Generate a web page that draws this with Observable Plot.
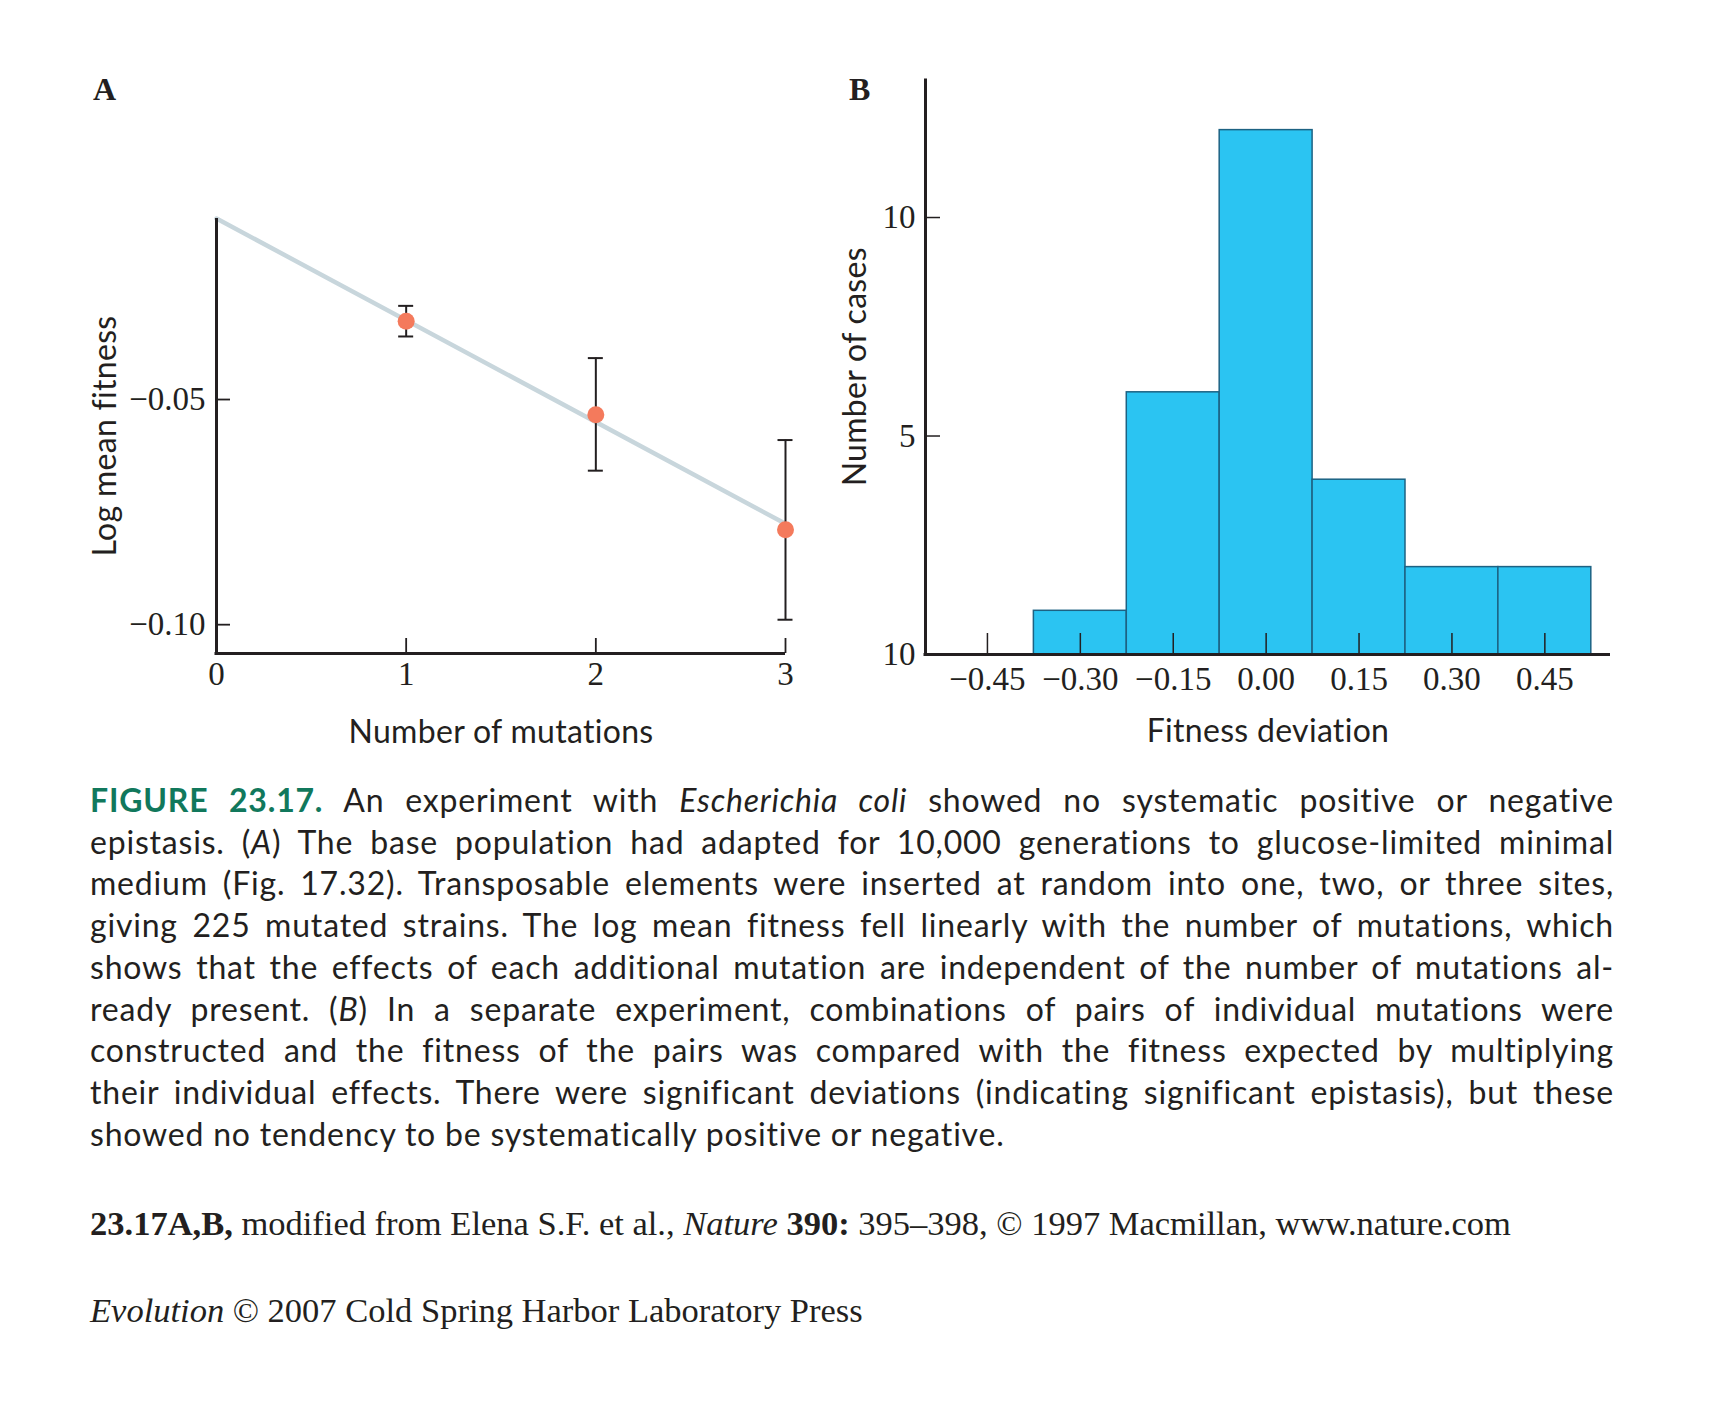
<!DOCTYPE html>
<html>
<head>
<meta charset="utf-8">
<script src="https://cdn.jsdelivr.net/npm/d3@7"></script>
<script src="https://cdn.jsdelivr.net/npm/@observablehq/plot@0.6"></script>
<style>
  body { margin: 0; background: #fff; }
  #page { position: relative; width: 1710px; height: 1404px; background: #fff; overflow: hidden; color: #231f20; }
  .abs { position: absolute; }
  .panel-label { font-family: "Liberation Serif", serif; font-weight: bold; font-size: 32px; line-height: 32px; }
  #caption { left: 90px; top: 779px; width: 1524px; font-family: Lato, sans-serif; font-size: 32px; line-height: 41.7px; letter-spacing: 0.8px; }
  #caption .ln { text-align: justify; text-align-last: justify; white-space: normal; }
  #caption .ln.last { text-align-last: left; }
  #caption .fig { color: #11785c; font-weight: bold; }
  .credit { left: 90px; font-family: "Liberation Serif", serif; font-size: 34.5px; line-height: 40px; white-space: nowrap; }
</style>
</head>
<body>
<div id="page">
  <div class="abs panel-label" style="left:93px; top:73px;">A</div>
  <div class="abs panel-label" style="left:849px; top:73px;">B</div>
  <div id="plotA" class="abs" style="left:0; top:0;"></div>
  <div id="plotB" class="abs" style="left:820px; top:0;"></div>
  <div id="caption" class="abs">
    <div class="ln"><span class="fig">FIGURE 23.17.</span> An experiment with <i>Escherichia coli</i> showed no systematic positive or negative</div>
    <div class="ln">epistasis. (<i>A</i>) The base population had adapted for 10,000 generations to glucose-limited minimal</div>
    <div class="ln">medium (Fig. 17.32). Transposable elements were inserted at random into one, two, or three sites,</div>
    <div class="ln">giving 225 mutated strains. The log mean fitness fell linearly with the number of mutations, which</div>
    <div class="ln">shows that the effects of each additional mutation are independent of the number of mutations al-</div>
    <div class="ln">ready present. (<i>B</i>) In a separate experiment, combinations of pairs of individual mutations were</div>
    <div class="ln">constructed and the fitness of the pairs was compared with the fitness expected by multiplying</div>
    <div class="ln">their individual effects. There were significant deviations (indicating significant epistasis), but these</div>
    <div class="ln last">showed no tendency to be systematically positive or negative.</div>
  </div>
  <div class="abs credit" style="top:1203px;"><b>23.17A,B,</b> modified from Elena S.F. et al., <i>Nature</i> <b>390:</b> 395–398, © 1997 Macmillan, www.nature.com</div>
  <div class="abs credit" style="top:1290px;"><i>Evolution</i> © 2007 Cold Spring Harbor Laboratory Press</div>
</div>
<script>
// ---------- Panel A data ----------
const mutations = [1, 2, 3];
const logFitness = [-0.0326, -0.0534, -0.0789];
const errLow = [-0.0360, -0.0658, -0.0989];
const errHigh = [-0.0292, -0.0408, -0.0590];
const fitX = [0, 3];
const fitY = [-0.0098, -0.0776];
const xTicksA = [0, 1, 2, 3];
const yTicksA = [-0.05, -0.10];
const xDomainA = [0, 3];
const yDomainA = [-0.1064, -0.0098];

// ---------- Panel B data ----------
const binCenters = [-0.45, -0.30, -0.15, 0.00, 0.15, 0.30, 0.45];
const counts = [0, 1, 6, 12, 4, 2, 2];
const binWidth = 0.15;
const yTicksB = [0, 5, 10];
const yTickLabelsB = ["10", "5", "10"];
const xDomainB = [-0.55, 0.556];
const yDomainB = [0, 13.17];

const INK = "#231f20";
const TICK_FONT = "'Liberation Serif', serif";
const TITLE_FONT = "Lato, sans-serif";
const TICK_SIZE = 33;
const TITLE_SIZE = 32;

function fmtSigned(d) {
  return (d < 0 ? "\u2212" : "") + Math.abs(d).toFixed(2);
}
function spaceTitles(chart) {
  chart.querySelectorAll("text").forEach(t => {
    const f = t.getAttribute("font-family") || (t.parentNode && t.parentNode.getAttribute && t.parentNode.getAttribute("font-family")) || "";
    if (f.includes("Lato")) t.style.letterSpacing = "0.3px";
  });
}

// ---------- Panel A ----------
{
  const W = 820, H = 760;
  const m = {top: 218, right: 35, bottom: 107, left: 216};
  const fw = W - m.left - m.right, fh = H - m.top - m.bottom;
  const pts = mutations.map((x, i) => ({x, y: logFitness[i], lo: errLow[i], hi: errHigh[i]}));
  const fit = fitX.map((x, i) => ({x, y: fitY[i]}));
  const chart = Plot.plot({
    width: W, height: H,
    marginTop: m.top, marginRight: m.right, marginBottom: m.bottom, marginLeft: m.left,
    x: {domain: xDomainA},
    y: {domain: yDomainA},
    style: {background: "transparent", color: INK, overflow: "visible"},
    marks: [
      Plot.line(fit, {x: "x", y: "y", stroke: "#c8d6dc", strokeWidth: 4.5}),
      Plot.ruleX(pts, {x: "x", y1: "lo", y2: "hi", stroke: INK, strokeWidth: 2}),
      Plot.ruleY(pts, {y: "lo", x1: "x", x2: "x", insetLeft: -7.5, insetRight: -7.5, stroke: INK, strokeWidth: 2}),
      Plot.ruleY(pts, {y: "hi", x1: "x", x2: "x", insetLeft: -7.5, insetRight: -7.5, stroke: INK, strokeWidth: 2}),
      Plot.dot(pts, {x: "x", y: "y", r: 8.5, fill: "#f47a5c", stroke: null}),
      Plot.ruleX(xTicksA.filter(d => d !== xDomainA[0]), {x: d => d, insetTop: fh - 15, stroke: INK, strokeWidth: 1.8}),
      Plot.ruleY(yTicksA, {y: d => d, insetRight: fw - 14, stroke: INK, strokeWidth: 1.8}),
      Plot.ruleX([xDomainA[0]], {stroke: INK, strokeWidth: 3}),
      Plot.ruleY([yDomainA[0]], {stroke: INK, strokeWidth: 3, insetLeft: -1.5}),
      Plot.axisX({ticks: xTicksA, tickSize: 0, tickPadding: 8, tickFormat: d => String(d), label: null,
        fontFamily: TICK_FONT, fontSize: TICK_SIZE, fill: INK}),
      Plot.axisY({ticks: yTicksA, tickSize: 0, tickPadding: 11, tickFormat: fmtSigned, label: null,
        fontFamily: TICK_FONT, fontSize: TICK_SIZE, fill: INK}),
      Plot.text(["Number of mutations"], {frameAnchor: "bottom", dy: 89, lineAnchor: "bottom", textAnchor: "middle",
        fontFamily: TITLE_FONT, fontSize: TITLE_SIZE, fill: INK}),
      Plot.text(["Log mean fitness"], {frameAnchor: "left", dx: -123, rotate: -90, lineAnchor: "top", textAnchor: "middle",
        fontFamily: TITLE_FONT, fontSize: TITLE_SIZE, fill: INK})
    ]
  });
  spaceTitles(chart);
  document.getElementById("plotA").append(chart);
}

// ---------- Panel B ----------
{
  const W = 890, H = 760;
  const m = {top: 78.5, right: 100, bottom: 106, left: 105};
  const fw = W - m.left - m.right, fh = H - m.top - m.bottom;
  const bars = binCenters.map((c, i) => ({x1: c - binWidth / 2, x2: c + binWidth / 2, n: counts[i]})).filter(d => d.n > 0);
  const chart = Plot.plot({
    width: W, height: H,
    marginTop: m.top, marginRight: m.right, marginBottom: m.bottom, marginLeft: m.left,
    x: {domain: xDomainB},
    y: {domain: yDomainB},
    style: {background: "transparent", color: INK, overflow: "visible"},
    marks: [
      Plot.rectY(bars, {x1: "x1", x2: "x2", y1: 0, y2: "n", fill: "#2bc4f2", stroke: "#1d6283", strokeWidth: 1.5}),
      Plot.ruleX(binCenters, {x: d => d, insetTop: fh - 21, stroke: INK, strokeWidth: 1.5}),
      Plot.ruleY(yTicksB.filter(d => d !== yDomainB[0]), {y: d => d, insetRight: fw - 15, stroke: INK, strokeWidth: 1.5}),
      Plot.ruleX([xDomainB[0]], {stroke: INK, strokeWidth: 3}),
      Plot.ruleY([yDomainB[0]], {stroke: INK, strokeWidth: 3, insetLeft: -1.5}),
      Plot.axisX({ticks: binCenters, tickSize: 0, tickPadding: 12, tickFormat: fmtSigned, label: null,
        fontFamily: TICK_FONT, fontSize: TICK_SIZE, fill: INK}),
      Plot.axisY({ticks: yTicksB, tickSize: 0, tickPadding: 10, tickFormat: d => yTickLabelsB[yTicksB.indexOf(d)], label: null,
        fontFamily: TICK_FONT, fontSize: TICK_SIZE, fill: INK}),
      Plot.text(["Fitness deviation"], {frameAnchor: "bottom", dy: 87, lineAnchor: "bottom", textAnchor: "middle",
        fontFamily: TITLE_FONT, fontSize: TITLE_SIZE, fill: INK}),
      Plot.text(["Number of cases"], {frameAnchor: "left", dx: -82, rotate: -90, lineAnchor: "top", textAnchor: "middle",
        fontFamily: TITLE_FONT, fontSize: TITLE_SIZE, fill: INK})
    ]
  });
  spaceTitles(chart);
  document.getElementById("plotB").append(chart);
}
</script>
</body>
</html>
